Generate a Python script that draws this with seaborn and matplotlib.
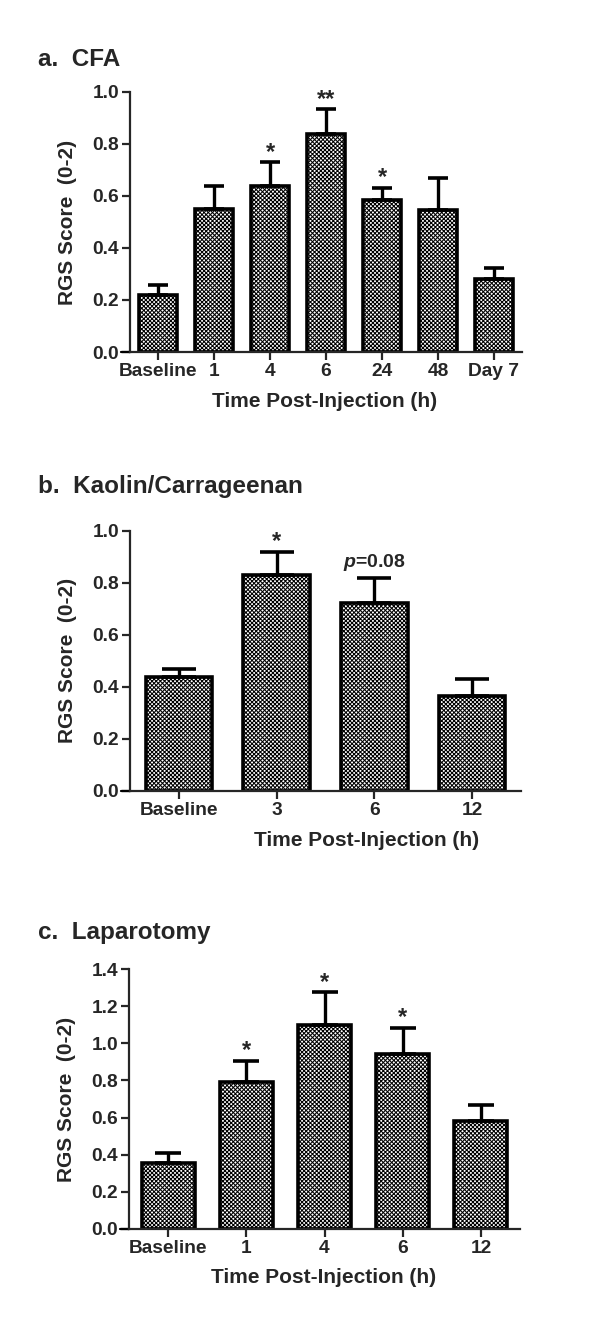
import pandas as pd
import matplotlib
matplotlib.use("Agg")
import matplotlib.pyplot as plt
import seaborn as sns

# panel a - CFA
cfa_times = ["Baseline", "1", "4", "6", "24", "48", "Day 7"]
cfa_mean = [0.218, 0.55, 0.638, 0.838, 0.583, 0.547, 0.28]
cfa_sem = [0.038, 0.089, 0.092, 0.095, 0.049, 0.121, 0.045]
cfa_marks = ["", "", "*", "**", "*", "", ""]

# panel b - Kaolin/Carrageenan
kc_times = ["Baseline", "3", "6", "12"]
kc_mean = [0.437, 0.83, 0.723, 0.364]
kc_sem = [0.033, 0.089, 0.097, 0.066]
kc_marks = ["", "*", "$p$=0.08", ""]

# panel c - Laparotomy
lap_times = ["Baseline", "1", "4", "6", "12"]
lap_mean = [0.353, 0.794, 1.098, 0.941, 0.581]
lap_sem = [0.058, 0.111, 0.178, 0.144, 0.088]
lap_marks = ["", "*", "*", "*", ""]

sns.set_style("ticks")
plt.rcParams['font.family'] = ['Liberation Sans', 'DejaVu Sans']
plt.rcParams['font.weight'] = 'bold'
plt.rcParams['mathtext.fontset'] = 'custom'
plt.rcParams['mathtext.it'] = 'Liberation Sans:italic:bold'
plt.rcParams['mathtext.rm'] = 'Liberation Sans:bold'
plt.rcParams['hatch.linewidth'] = 0.75

W, H = 600, 1329
fig = plt.figure(figsize=(6, 13.29), dpi=100)


def panel(rect, times, mean, sem, marks, ymax, title, title_y, cap, xlab_x):
    ax = fig.add_axes(rect)
    df = pd.DataFrame({"time": times, "score": mean})
    sns.barplot(data=df, x="time", y="score", color="white", width=0.68,
                edgecolor="black", linewidth=2.6, ax=ax, errorbar=None)
    for p in ax.patches:
        p.set_hatch("xxxxxxxx")
        p.set_facecolor("white")
    # upper error bars only
    ax.errorbar(range(len(times)), mean, yerr=[[0] * len(sem), sem], fmt="none",
                ecolor="black", elinewidth=2.4, capsize=cap, capthick=2.6, zorder=1)
    for i, m in enumerate(marks):
        if m:
            star = m.startswith("*")
            ax.annotate(m, (i, mean[i] + sem[i]), xytext=(0, -1 if star else 3),
                        textcoords="offset points", ha="center", va="bottom",
                        fontsize=17 if star else 14, fontweight="bold")
    ax.set_xlim(-0.5, len(times) - 0.5)
    ax.set_ylim(0, ymax)
    ax.set_yticks([round(0.2 * k, 1) for k in range(int(round(ymax / 0.2)) + 1)])
    ax.yaxis.set_major_formatter(matplotlib.ticker.FormatStrFormatter("%.1f"))
    sns.despine(ax=ax)
    for s in ["left", "bottom"]:
        ax.spines[s].set_linewidth(1.6)
    ax.tick_params(width=1.6, length=6, labelsize=13.8, pad=2)
    ax.axhline(0, xmin=-0.022, xmax=0, color="black", lw=1.6, clip_on=False)
    ax.set_xlabel("Time Post-Injection (h)", fontsize=15, fontweight="bold")
    ax.set_ylabel("RGS Score  (0-2)", fontsize=15, fontweight="bold")
    ax.xaxis.set_label_coords(xlab_x, -0.19)
    ax.xaxis.label.set_va("center")
    ax.yaxis.set_label_coords(-0.16, 0.5)
    ax.yaxis.label.set_va("center")
    fig.text(38 / W, 1 - title_y / H, title, fontsize=17.5, fontweight="bold",
             va="center", ha="left")
    return ax


panel([130 / W, 1 - 352 / H, 392 / W, 260 / H], cfa_times, cfa_mean, cfa_sem,
      cfa_marks, 1.0, "a.  CFA", 60, 7, 0.497)
panel([130 / W, 1 - 790.7 / H, 391 / W, 260 / H], kc_times, kc_mean, kc_sem,
      kc_marks, 1.0, "b.  Kaolin/Carrageenan", 486, 12, 0.606)
panel([129 / W, 1 - 1228.7 / H, 391 / W, 259.4 / H], lap_times, lap_mean, lap_sem,
      lap_marks, 1.4, "c.  Laparotomy", 932, 9.5, 0.497)

fig.savefig("out.png", dpi=100)
